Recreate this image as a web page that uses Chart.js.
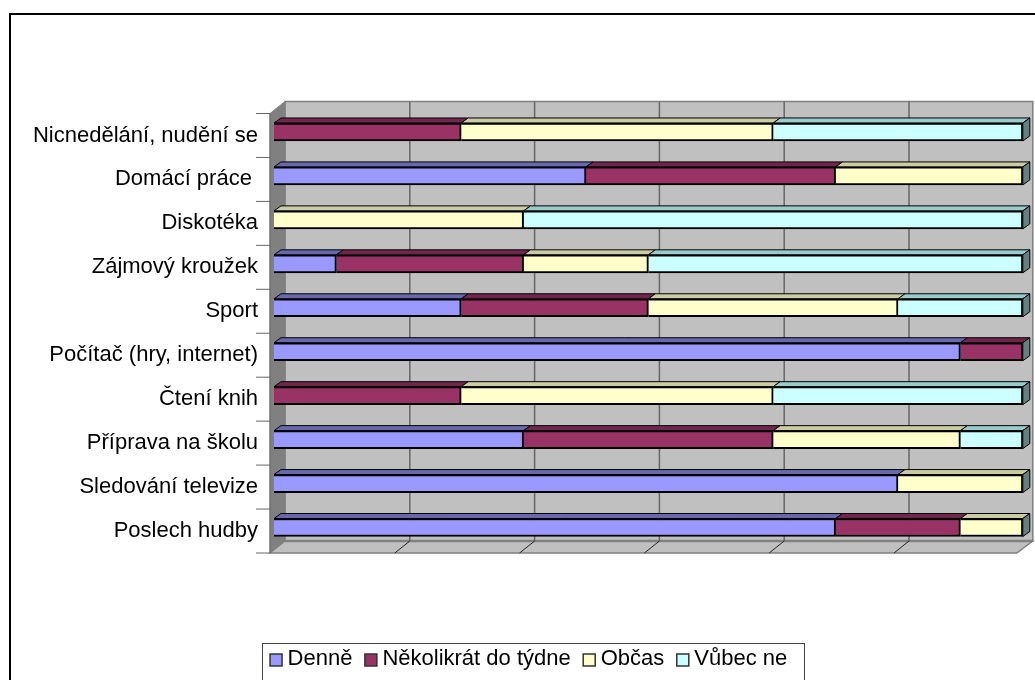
<!DOCTYPE html>
<html lang="en">
<head>
  <meta charset="UTF-8">
  <title>Volný čas</title>
  <script src="https://cdn.jsdelivr.net/npm/chart.js"></script>
  <style>
    html, body { margin: 0; padding: 0; background: #fff; overflow: hidden; }
    canvas { display: block; }
  </style>
</head>
<body>
  <canvas id="chart" width="1035" height="680"></canvas>
  <script>
    const categories = ['Nicnedělání, nudění se', 'Domácí práce ', 'Diskotéka', 'Zájmový kroužek', 'Sport',
      'Počítač (hry, internet)', 'Čtení knih', 'Příprava na školu', 'Sledování televize', 'Poslech hudby'];
    const denne = [0, 5, 0, 1, 3, 11, 0, 4, 10, 9];
    const nekolikrat = [3, 4, 0, 3, 3, 1, 3, 4, 0, 2];
    const obcas = [5, 3, 4, 2, 4, 0, 5, 3, 2, 1];
    const vubecNe = [4, 0, 8, 6, 2, 0, 4, 1, 0, 0];

    const fonts = '"Liberation Sans", Arial, sans-serif';
    // offsets of the 3d box relative to the bar front faces
    const FRONT = { x: -4, y: 3.5 }, BACK = { x: 11, y: -8.5 }, BAR_DEPTH = { x: 7, y: -5 };
    const RIGHT_BACK = 10, RIGHT_FRONT = -6;

    const poly = (ctx, pts, fill, stroke, lw) => {
      ctx.beginPath();
      pts.forEach((p, i) => i ? ctx.lineTo(p[0], p[1]) : ctx.moveTo(p[0], p[1]));
      ctx.closePath();
      if (fill) { ctx.fillStyle = fill; ctx.fill(); }
      if (stroke) { ctx.strokeStyle = stroke; ctx.lineWidth = lw || 1; ctx.stroke(); }
    };
    const line = (ctx, x1, y1, x2, y2, color, lw) => {
      ctx.beginPath(); ctx.moveTo(x1, y1); ctx.lineTo(x2, y2);
      ctx.strokeStyle = color; ctx.lineWidth = lw || 1; ctx.stroke();
    };

    const box3d = {
      id: 'box3d',
      beforeDatasetsDraw(chart) {
        const { ctx, scales: { x, y } } = chart;
        const l = x.left, r = x.right, t = y.top, b = y.bottom;
        ctx.save();
        // outer frame
        ctx.strokeStyle = '#000'; ctx.lineWidth = 2;
        ctx.strokeRect(10, 14, 1040, 700);
        // back wall, left wall, floor
        poly(ctx, [[l + BACK.x, t + BACK.y], [r + RIGHT_BACK, t + BACK.y], [r + RIGHT_BACK, b + BACK.y], [l + BACK.x, b + BACK.y]], '#c0c0c0', '#808080', 1.5);
        poly(ctx, [[l + FRONT.x, t + FRONT.y], [l + BACK.x, t + BACK.y], [l + BACK.x, b + BACK.y], [l + FRONT.x, b + FRONT.y]], '#808080', '#808080', 1);
        poly(ctx, [[l + FRONT.x, b + FRONT.y], [l + BACK.x, b + BACK.y], [r + RIGHT_BACK, b + BACK.y], [r + RIGHT_FRONT, b + FRONT.y]], '#c0c0c0', '#808080', 1.5);
        line(ctx, l + BACK.x, b + BACK.y, r + RIGHT_BACK, b + BACK.y, '#808080', 2.5);
        x.ticks.forEach((tick, i) => {
          if (i === 0 || i === x.ticks.length - 1) return;
          const px = x.getPixelForValue(tick.value);
          line(ctx, px + BACK.x, t + BACK.y, px + BACK.x, b + BACK.y, '#666', 1.5);
          line(ctx, px + BACK.x, b + BACK.y, px + FRONT.x, b + FRONT.y, '#222', 1);
        });
        // category tick marks
        for (let i = 0; i <= categories.length; i++) {
          const py = t + (b - t) * i / categories.length + FRONT.y;
          line(ctx, l + FRONT.x - 14, py, l + FRONT.x, py, '#666', 1);
        }
        line(ctx, l + FRONT.x, t + FRONT.y, l + FRONT.x, b + FRONT.y, '#666', 1);
        // top faces of the bars
        chart.data.datasets.forEach((ds, di) => {
          chart.getDatasetMeta(di).data.forEach((bar, i) => {
            if (!ds.data[i]) return;
            const top = bar.y - bar.height / 2;
            poly(ctx, [[bar.base, top], [bar.base + BAR_DEPTH.x, top + BAR_DEPTH.y], [bar.x + BAR_DEPTH.x, top + BAR_DEPTH.y], [bar.x, top]], ds.topColor, '#000', 1);
          });
        });
        // right end of every bar, the last series always closes it
        const last = chart.data.datasets.length - 1;
        chart.getDatasetMeta(last).data.forEach(bar => {
          const top = bar.y - bar.height / 2, bot = bar.y + bar.height / 2;
          poly(ctx, [[bar.x, top], [bar.x + BAR_DEPTH.x, top + BAR_DEPTH.y], [bar.x + BAR_DEPTH.x, bot + BAR_DEPTH.y], [bar.x, bot]], chart.data.datasets[last].sideColor, '#000', 1);
        });
        ctx.restore();
      },
      afterDraw(chart) {
        const { ctx, legend } = chart;
        ctx.save();
        ctx.strokeStyle = '#444'; ctx.lineWidth = 1;
        ctx.strokeRect(262.5, 643.5, 542, 40);
        // swatches are wider than the box width the legend reserves for them
        legend.legendHitBoxes.forEach((hit, i) => {
          const sy = Math.round(hit.top + (hit.height - 12) / 2);
          ctx.fillStyle = '#fff';
          ctx.fillRect(hit.left - 4, sy - 3, 20, 18);
          ctx.fillStyle = chart.data.datasets[i].backgroundColor;
          ctx.strokeStyle = '#333'; ctx.lineWidth = 1.5;
          ctx.fillRect(hit.left + 2.5, sy + 1, 12, 12);
          ctx.strokeRect(hit.left + 2.5, sy + 1, 12, 12);
        });
        ctx.restore();
      }
    };

    new Chart(document.getElementById('chart'), {
      type: 'bar',
      plugins: [box3d],
      data: {
        labels: categories,
        datasets: [
          { label: 'Denně', data: denne, backgroundColor: '#9999ff', topColor: '#6868b0' },
          { label: 'Několikrát do týdne', data: nekolikrat, backgroundColor: '#993366', topColor: '#73264d' },
          { label: 'Občas', data: obcas, backgroundColor: '#ffffcc', topColor: '#cccca3' },
          { label: 'Vůbec ne', data: vubecNe, backgroundColor: '#ccffff', topColor: '#99cccc', sideColor: '#668080' }
        ].map(d => ({ ...d, borderColor: '#000', borderWidth: 2, barThickness: 18 }))
      },
      options: {
        indexAxis: 'y',
        responsive: false,
        animation: false,
        layout: { padding: { left: 32, top: 110, right: 12.2, bottom: 0 } },
        plugins: {
          tooltip: { enabled: false },
          legend: {
            position: 'bottom',
            labels: {
              color: '#000', boxWidth: 9, boxHeight: 12, padding: 10,
              font: { family: fonts, size: 22 }
            }
          }
        },
        scales: {
          x: {
            stacked: true, min: 0, max: 12,
            ticks: { display: false, stepSize: 2 },
            grid: { display: false }, border: { display: false },
            afterFit: s => { s.height = 88.5; }
          },
          y: {
            stacked: true,
            grid: { display: false, drawTicks: false }, border: { display: false },
            ticks: { color: '#000', padding: 16, labelOffset: 3.5, font: { family: fonts, size: 22 } },
            afterFit: s => { s.width = 242; }
          }
        }
      }
    });
  </script>
</body>
</html>
